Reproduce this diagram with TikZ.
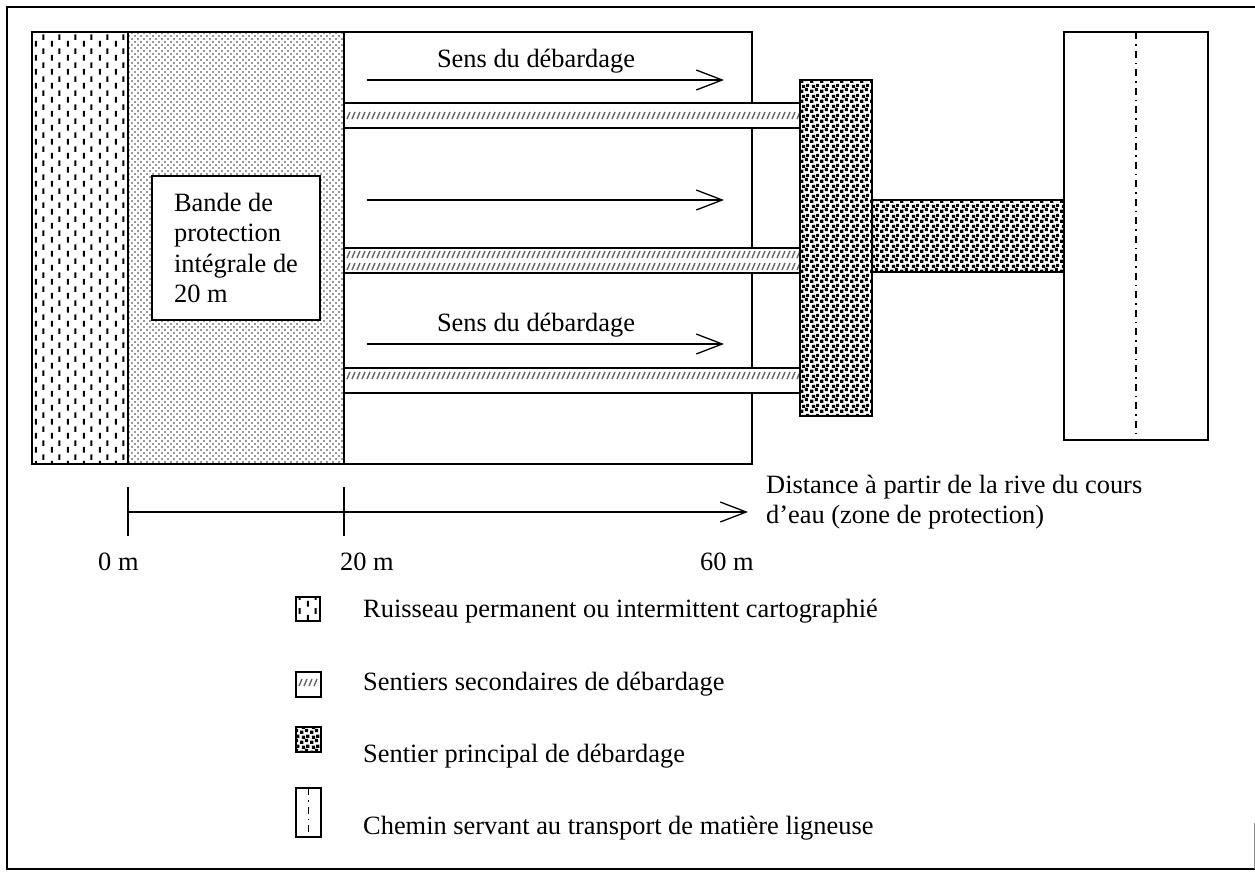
\documentclass[tikz,border=0pt]{standalone}
\usepackage{fontspec}
\setmainfont{Liberation Serif}
\usepackage{tikz}
\usetikzlibrary{positioning, arrows.meta, patterns}

\pgfdeclarepatternformonly{stream}{\pgfqpoint{0pt}{0pt}}{\pgfqpoint{16pt}{14pt}}{\pgfqpoint{16pt}{14pt}}
{
  \pgfsetlinewidth{2.2pt}
  \pgfpathmoveto{\pgfqpoint{4pt}{0.5pt}}\pgfpathlineto{\pgfqpoint{4pt}{6.5pt}}
  \pgfpathmoveto{\pgfqpoint{12pt}{7.5pt}}\pgfpathlineto{\pgfqpoint{12pt}{13.5pt}}
  \pgfusepath{stroke}
}
\pgfdeclarepatternformonly{fine dots}{\pgfqpoint{-1pt}{-1pt}}{\pgfqpoint{5pt}{5pt}}{\pgfqpoint{6pt}{6pt}}
{
  \pgfpathcircle{\pgfqpoint{0pt}{0pt}}{.9pt}
  \pgfpathcircle{\pgfqpoint{3pt}{3pt}}{.9pt}
  \pgfusepath{fill}
}
\pgfdeclarepatternformonly{gravel}{\pgfqpoint{0pt}{0pt}}{\pgfqpoint{10pt}{10pt}}{\pgfqpoint{10pt}{10pt}}
{
  \pgfpathrectangle{\pgfqpoint{0.2pt}{0.2pt}}{\pgfqpoint{3.4pt}{3.4pt}}
  \pgfpathrectangle{\pgfqpoint{5.2pt}{2.1pt}}{\pgfqpoint{3.4pt}{3.4pt}}
  \pgfpathrectangle{\pgfqpoint{2.1pt}{5.5pt}}{\pgfqpoint{3.4pt}{3.4pt}}
  \pgfpathrectangle{\pgfqpoint{6.6pt}{6.6pt}}{\pgfqpoint{3.4pt}{3.4pt}}
  \pgfusepath{fill}
}

\begin{document}
\begin{tikzpicture}[x=1pt,y=-1pt,
    every node/.style={font=\fontsize{26.4}{30.5}\selectfont, inner sep=0pt},
    zone/.style={draw, line width=1.8pt},
    trail/.style={draw, fill=white, line width=1.6pt},
    hatch/.style={black!60, line width=1.4pt},
    roadline/.style={line width=1.8pt, dash pattern=on 7pt off 5pt on 1.5pt off 5pt},
    flow/.style={->, line width=1.3pt},
    key/.style={line width=1.3pt},
    >={Straight Barb[length=26pt,width=20pt]}]
    \useasboundingbox (0,0) rectangle (1255,873);

    % frame
    \draw[line width=1.8pt] (7,7) rectangle (1260,869);
    \draw[black!45, line width=1pt] (1254,823) -- (1254,869);

    % stream and protection band
    \path[pattern=stream] (32,32) rectangle (128,464);
    \path[pattern=fine dots, pattern color=black!80] (128,32) rectangle (344,464);
    \draw[zone] (32,32) rectangle (344,464);
    \draw[zone] (128,32) -- (128,464);
    \draw[zone] (344,32) rectangle (752,464);

    \node[draw, fill=white, line width=1.6pt, minimum width=168pt, minimum height=144pt,
          align=left] (B) at (236,248) {Bande de\\protection\\intégrale de\\20 m};

    % secondary trails
    \foreach \y in {103,248,368}
        \draw[trail] (344,\y) rectangle (800,\y+25);
    \foreach \y in {112,251,263,372}
        \foreach \x in {347,352,...,797}
            \draw[hatch] (\x,\y+7) -- (\x+3,\y);

    % main trail and road
    \draw[zone, pattern=gravel] (800,80) rectangle (872,416);
    \draw[zone, pattern=gravel] (872,200) rectangle (1064,272);
    \draw[zone] (1064,32) rectangle (1208,440);
    \draw[roadline] (1136,32) -- (1136,440);

    % skidding direction
    \node[anchor=base] (S1) at (536,67) {Sens du débardage};
    \node[anchor=base] (S2) at (536,331) {Sens du débardage};
    \coordinate (F1) at (367,80);  \coordinate (G1) at (724,80);
    \coordinate (F2) at (367,200); \coordinate (G2) at (724,200);
    \coordinate (F3) at (367,344); \coordinate (G3) at (724,344);
    \draw[flow] (F1) -- (G1);
    \draw[flow] (F2) -- (G2);
    \draw[flow] (F3) -- (G3);

    % distance axis
    \coordinate (O) at (128,512);
    \coordinate (E) at (748,512);
    \coordinate (T0) at (128,487); \coordinate (U0) at (128,536);
    \coordinate (T1) at (344,487); \coordinate (U1) at (344,536);
    \draw[flow] (O) -- (E);
    \draw[line width=1.3pt] (T0) -- (U0);
    \draw[line width=1.3pt] (T1) -- (U1);
    \node[anchor=base west] (L0) at (98,570) {0 m};
    \node[anchor=base west] (L1) at (340,570) {20 m};
    \node[anchor=base west] (L2) at (700,570) {60 m};
    \node[anchor=west, align=left] (D) at (766,502) {Distance à partir de la rive du cours\\d’eau (zone de protection)};

    % legend
    \draw[key, pattern=stream] (296,597) rectangle (320,621);
    \draw[key] (296,672) rectangle (321,697);
    \foreach \x in {299,304,...,316}
        \draw[hatch] (\x,686) -- (\x+3,679);
    \draw[key, pattern=gravel] (296,727) rectangle (321,752);
    \draw[key] (296,788) rectangle (321,837);
    \draw[roadline, line width=1.3pt] (308.5,788) -- (308.5,837);
    \node[anchor=base west] (K1) at (363,617) {Ruisseau permanent ou intermittent cartographié};
    \node[anchor=base west] (K2) at (363,690) {Sentiers secondaires de débardage};
    \node[anchor=base west] (K3) at (363,762) {Sentier principal de débardage};
    \node[anchor=base west] (K4) at (363,834) {Chemin servant au transport de matière ligneuse};
\end{tikzpicture}
\end{document}
